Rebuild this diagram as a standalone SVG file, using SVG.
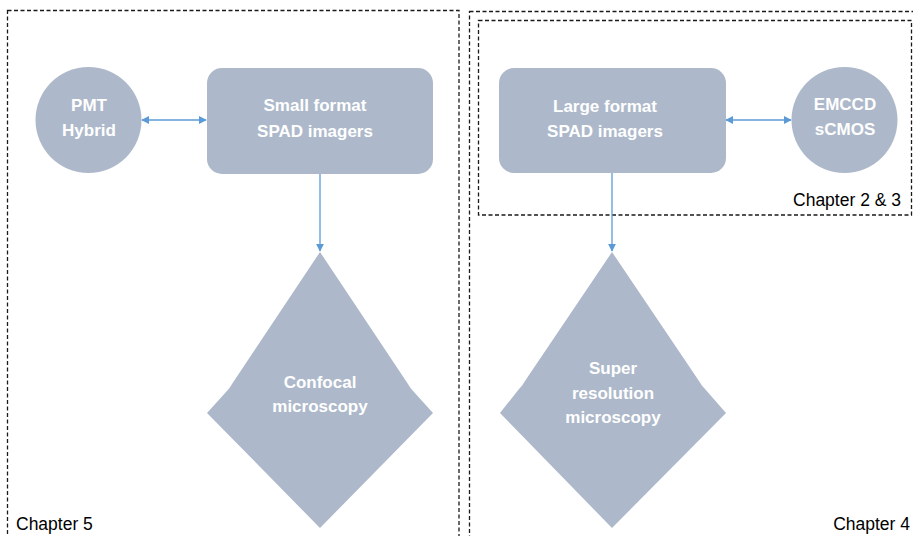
<svg xmlns="http://www.w3.org/2000/svg" width="913" height="536" viewBox="0 0 913 536">
<style>
.frame{fill:none;stroke:#1a1a1a;stroke-width:1.3;stroke-dasharray:4 2.5}
.node{fill:#adb9ca}
.lbl{font-family:"Liberation Sans",Arial,sans-serif;font-weight:bold;font-size:17px;fill:#ffffff;text-anchor:middle}
.cap{font-family:"Liberation Sans",Arial,sans-serif;font-size:17.5px;fill:#000000}
.conn{fill:none;stroke:#5b9bd5;stroke-width:1.3}
</style>
<defs>
<marker id="ah" viewBox="0 0 10 10" refX="9" refY="5" markerWidth="8" markerHeight="8" markerUnits="userSpaceOnUse" orient="auto-start-reverse">
<path d="M0,0 L10,5 L0,10 Z" fill="#5b9bd5"/>
</marker>
</defs>
<rect width="913" height="536" fill="#ffffff"/>
<g id="frames">
<rect class="frame" x="7.5" y="10.5" width="451.5" height="600"/>
<rect class="frame" x="469.5" y="11.5" width="470" height="600"/>
<rect class="frame" x="478.5" y="20.5" width="433" height="194.5"/>
</g>
<g id="connectors">
<line class="conn" x1="142" y1="120" x2="206" y2="120" marker-start="url(#ah)" marker-end="url(#ah)"/>
<line class="conn" x1="320" y1="174" x2="320" y2="251" marker-end="url(#ah)"/>
<line class="conn" x1="726" y1="120" x2="791" y2="120" marker-start="url(#ah)" marker-end="url(#ah)"/>
<line class="conn" x1="612" y1="173" x2="612" y2="251" marker-end="url(#ah)"/>
</g>
<g id="pmt">
<circle class="node" cx="88.5" cy="120" r="53"/>
<text class="lbl" x="89" y="111">PMT</text>
<text class="lbl" x="89" y="136">Hybrid</text>
</g>
<g id="small-format">
<rect class="node" x="207" y="68" width="226" height="106" rx="15"/>
<text class="lbl" x="315" y="111">Small format</text>
<text class="lbl" x="315" y="137">SPAD imagers</text>
</g>
<g id="confocal">
<path class="node" d="M320,252 L232,384 Q230,388 226,392 L207,413 L320,528 L433,413 L414,392 Q410,388 408,384 Z"/>
<text class="lbl" x="320" y="388">Confocal</text>
<text class="lbl" x="320" y="412">microscopy</text>
</g>
<g id="large-format">
<rect class="node" x="499" y="68" width="227" height="105" rx="15"/>
<text class="lbl" x="605" y="112">Large format</text>
<text class="lbl" x="605" y="137">SPAD imagers</text>
</g>
<g id="emccd">
<circle class="node" cx="844.5" cy="120" r="53"/>
<text class="lbl" x="845" y="110">EMCCD</text>
<text class="lbl" x="845" y="135">sCMOS</text>
</g>
<g id="super-resolution">
<path class="node" d="M612,252 L525,381 Q523,385 519,389 L500,413 L612,528 L726,413 L705,389 Q701,385 699,381 Z"/>
<text class="lbl" x="613" y="374">Super</text>
<text class="lbl" x="613" y="399">resolution</text>
<text class="lbl" x="613" y="423">microscopy</text>
</g>
<g id="labels">
<text class="cap" x="901" y="206" text-anchor="end">Chapter 2 &amp; 3</text>
<text class="cap" x="16" y="530">Chapter 5</text>
<text class="cap" x="910" y="530" text-anchor="end">Chapter 4</text>
</g>
</svg>
